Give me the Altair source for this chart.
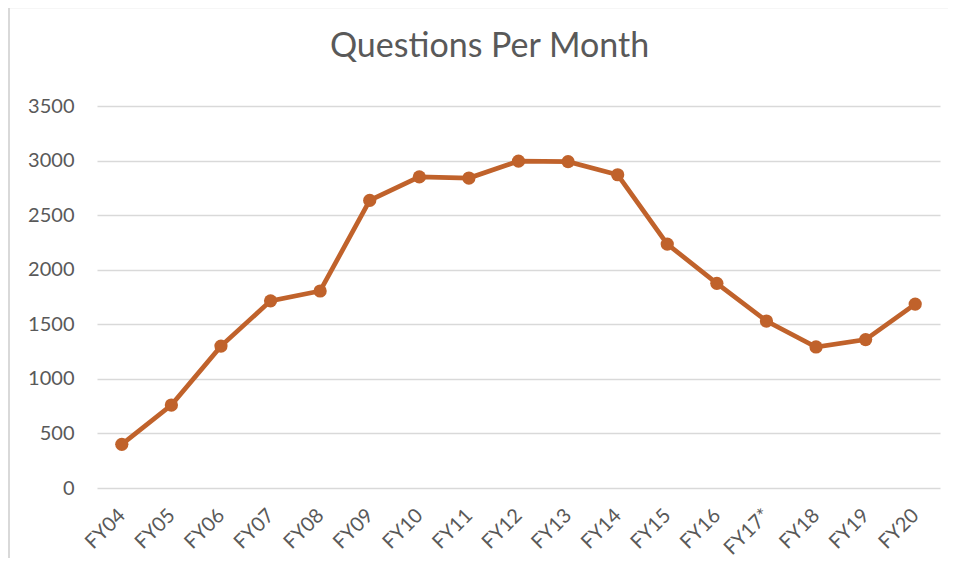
import altair as alt
import pandas as pd

years = ["FY04", "FY05", "FY06", "FY07", "FY08", "FY09", "FY10", "FY11", "FY12",
         "FY13", "FY14", "FY15", "FY16", "FY17*", "FY18", "FY19", "FY20"]
questions = [400, 760, 1300, 1715, 1805, 2635, 2850, 2840, 2995,
             2990, 2870, 2235, 1875, 1530, 1292, 1360, 1685]
y_ticks = [0, 500, 1000, 1500, 2000, 2500, 3000, 3500]

df = pd.DataFrame({"year": years, "questions": questions})

COLOR = "#C0622B"
TEXT = "#595959"
FONT = "Lato"

base = alt.Chart(df).encode(
    x=alt.X("year:N", sort=years,
            scale=alt.Scale(type="point", padding=0.5),
            axis=alt.Axis(title=None, labelAngle=-45, labelFontSize=20, labelFont=FONT,
                          labelColor=TEXT, ticks=False, domain=False, grid=False,
                          labelBaseline="middle", labelAlign="right", labelPadding=24)),
    y=alt.Y("questions:Q", scale=alt.Scale(domain=[0, 3500], nice=False),
            axis=alt.Axis(title=None, values=y_ticks, format="d", labelFontSize=20,
                          labelFont=FONT, labelColor=TEXT, ticks=False, domain=False,
                          gridColor="#D9D9D9", gridWidth=1.5, labelPadding=23)),
)

line = base.mark_line(color=COLOR, strokeWidth=4.7)
points = base.mark_circle(color=COLOR, size=175, opacity=1)

one = pd.DataFrame({"k": [0]})
frame_left = alt.Chart(one).mark_rule(color="#D9D9D9", strokeWidth=2).encode(
    x=alt.value(-88), y=alt.value(-98.5), y2=alt.value(460)
)
frame_top = alt.Chart(one).mark_rule(color="#D9D9D9", strokeWidth=1.5).encode(
    x=alt.value(-88), x2=alt.value(860), y=alt.value(-98.5)
)

chart = alt.layer(frame_left, frame_top, line, points).properties(
    width=843, height=382,
    autosize=alt.AutoSizeParams(type="none"),
    padding={"left": 89, "top": 98, "right": 8, "bottom": 70},
    title=alt.Title("Questions Per Month", font=FONT, fontSize=34, fontWeight="normal",
                    color=TEXT, anchor="middle", frame="group", dx=-29,
                    baseline="alphabetic", offset=-84),
).configure_view(stroke=None)

chart.save("out.html", embed_options={"renderer": "svg", "actions": False})
